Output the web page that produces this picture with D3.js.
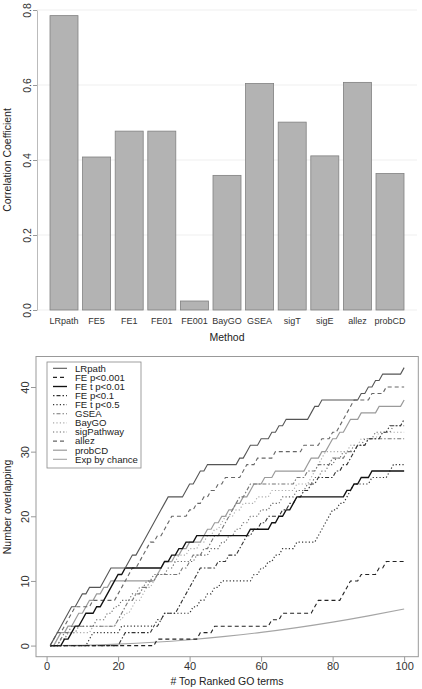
<!DOCTYPE html>
<html><head><meta charset="utf-8">
<script src="https://cdn.jsdelivr.net/npm/d3@7"></script>
<style>
body{margin:0;background:#fff}
svg{display:block}
text{font-family:"Liberation Sans",Arial,Helvetica,sans-serif}
</style>
</head><body>
<svg id="c" width="422" height="689"></svg>
<script>
// ---------- Data: top panel ----------
const methods = ["LRpath","FE5","FE1","FE01","FE001","BayGO","GSEA","sigT","sigE","allez","probCD"];
const correlation = [0.785,0.408,0.477,0.477,0.024,0.359,0.604,0.501,0.411,0.607,0.364];
const corrTicks = [0,0.2,0.4,0.6,0.8];

// ---------- Data: bottom panel ----------
const seriesNames = ["LRpath","FE p<0.001","FE t p<0.01","FE p<0.1","FE t p<0.5","GSEA","BayGO","sigPathway","allez","probCD","Exp by chance"];
// ranks (x of top ranked GO terms) at which a new overlapping term appears
const hitsLRpath = [2,3,4,5,6,7,9,10,12,16,17,18,23,24,26,27,28,29,30,31,32,33,34,39,40,42,43,45,54,56,57,60,63,65,67,74,75,77,88,90,92,94,100];
const hitsFE001 = [31,43,47,63,66,75,76,83,84,85,88,93,95];
const hitsFEt01 = [5,7,8,10,11,14,16,17,18,19,20,22,33,35,37,39,42,57,63,65,67,69,70,84,86,88,91];
const hitsFE1 = [21,22,30,32,33,37,38,39,40,41,42,43,48,51,54,55,56,58,60,62,66,68,70,72,74,76,81,83,85,86,87,90,94,96,100];
const hitsFEt5 = [12,13,21,31,33,41,43,45,47,49,58,60,62,64,66,70,76,77,78,79,80,82,84,85,86,91,96,97];
const hitsGSEA = [4,5,7,20,21,22,23,25,27,29,31,38,40,41,44,46,47,49,50,51,52,53,54,56,57,70,73,76,80,84,87,90];
const hitsBayGO = [3,6,13,20,22,24,25,27,28,30,31,32,33,37,40,43,45,47,49,50,53,55,59,63,70,74,75,76,77,78,85,88,93];
const hitsSigPathway = [4,6,9,14,17,19,21,24,26,28,30,34,36,42,46,49,51,53,55,57,60,63,66,70,73,75,77,79,81,83,86,89,92,97];
const hitsAllez = [2,3,5,6,7,8,13,20,21,22,23,24,26,27,28,29,31,33,34,35,40,42,44,46,48,50,55,56,59,64,72,77,80,82,83,84,85,86,91,95];
const hitsProbCD = [3,4,6,8,9,11,12,14,16,18,31,32,33,36,38,40,44,45,47,49,51,53,55,57,58,61,64,73,74,77,79,80,82,84,85,88,93,100];
const chanceX = [1,10,20,30,40,50,60,70,80,90,100];
const chanceY = [0.003,0.06,0.23,0.51,0.91,1.42,2.04,2.78,3.63,4.6,5.67];
const rankTicks = [0,20,40,60,80,100];
const overlapTicks = [0,10,20,30,40];

// ---------- Styles ----------
const FONT_DARK = "#333";
const seriesStyles = [
  {color:"#555", width:1.1, dash:null},
  {color:"#222", width:1.1, dash:"4,3"},
  {color:"#111", width:1.35, dash:null},
  {color:"#333", width:1.1, dash:"1.5,2,4,2"},
  {color:"#333", width:1.2, dash:"1.2,2.2"},
  {color:"#777", width:1.1, dash:"1.5,2,4,2"},
  {color:"#aaa", width:1.1, dash:"1.2,2.2"},
  {color:"#666", width:1.1, dash:"1.2,2.2"},
  {color:"#666", width:1.1, dash:"4,3"},
  {color:"#9a9a9a", width:1.2, dash:null},
  {color:"#a5a5a5", width:1.1, dash:null}
];

const svg = d3.select("#c");

// ================= TOP: bar chart =================
const gTop = svg.append("g");
const xb = d3.scaleBand().domain(methods).range([47.7, 406.3]).paddingInner(0.141).paddingOuter(0.0705);
const yb = d3.scaleLinear().domain([0, 0.8]).range([310, 10]);

gTop.append("g").selectAll("line").data(corrTicks).join("line")
  .attr("x1", 37).attr("x2", 417)
  .attr("y1", d => yb(d)).attr("y2", d => yb(d))
  .attr("stroke", "#efefef").attr("stroke-width", 1);

gTop.append("g").selectAll("rect").data(methods).join("rect")
  .attr("x", d => xb(d))
  .attr("y", (d, i) => yb(correlation[i]))
  .attr("width", xb.bandwidth())
  .attr("height", (d, i) => yb(0) - yb(correlation[i]))
  .attr("fill", "#b3b3b3").attr("stroke", "#808080").attr("stroke-width", 0.8);

const yAxisTop = gTop.append("g").attr("transform", "translate(37,0)")
  .call(d3.axisLeft(yb).tickValues(corrTicks).tickFormat(d3.format(".1f")).tickSize(4).tickSizeOuter(0));
yAxisTop.select(".domain").attr("stroke", "#bbb");
yAxisTop.selectAll(".tick line").attr("stroke", "#999");
yAxisTop.selectAll(".tick text")
  .attr("transform", "rotate(-90)").attr("x", 0).attr("y", -6).attr("dy", 0)
  .attr("text-anchor", "middle").attr("fill", FONT_DARK).style("font-size", "10.5px");

const xAxisTop = gTop.append("g").attr("transform", "translate(0,310)")
  .call(d3.axisBottom(xb).tickSize(0).tickSizeOuter(0));
xAxisTop.select(".domain").remove();
xAxisTop.selectAll(".tick text").attr("y", 13.5).attr("dy", 0)
  .attr("fill", FONT_DARK).style("font-size", "9px");

gTop.append("text").attr("x", 227).attr("y", 341).attr("text-anchor", "middle")
  .attr("fill", "#222").style("font-size", "10.5px").text("Method");
gTop.append("text").attr("transform", "translate(11,160) rotate(-90)").attr("text-anchor", "middle")
  .attr("fill", "#222").style("font-size", "10.5px").text("Correlation Coefficient");

// ================= BOTTOM: line chart =================
const gBot = svg.append("g");
const xl = d3.scaleLinear().domain([-2.96, 103.96]).range([36, 418.3]);
const yl = d3.scaleLinear().domain([-1.72, 44.72]).range([656.7, 356.5]);

const ranks = d3.range(1, 101);
const seriesHits = [hitsLRpath, hitsFE001, hitsFEt01, hitsFE1, hitsFEt5, hitsGSEA, hitsBayGO, hitsSigPathway, hitsAllez, hitsProbCD];
const seriesData = seriesHits.map(h => ranks.map(r => ({x: r, y: h.filter(v => v <= r).length})));

const line = d3.line().x(d => xl(d.x)).y(d => yl(d.y));
const chanceLine = d3.line().x(d => xl(d[0])).y(d => yl(d[1])).curve(d3.curveMonotoneX);

gBot.append("path").datum(chanceX.map((x, i) => [x, chanceY[i]]))
  .attr("d", chanceLine).attr("fill", "none")
  .attr("stroke", seriesStyles[10].color).attr("stroke-width", seriesStyles[10].width);

for (let i = seriesData.length - 1; i >= 0; i--) {
  const st = seriesStyles[i];
  gBot.append("path").datum(seriesData[i]).attr("d", line)
    .attr("fill", "none").attr("stroke", st.color).attr("stroke-width", st.width)
    .attr("stroke-dasharray", st.dash);
}

gBot.append("rect").attr("x", xl.range()[0]).attr("y", yl.range()[1])
  .attr("width", xl.range()[1] - xl.range()[0]).attr("height", yl.range()[0] - yl.range()[1])
  .attr("fill", "none").attr("stroke", "#999").attr("stroke-width", 1);

const xAxisB = gBot.append("g").attr("transform", `translate(0,${yl.range()[0]})`)
  .call(d3.axisBottom(xl).tickValues(rankTicks).tickSize(5).tickSizeOuter(0));
xAxisB.select(".domain").remove();
xAxisB.selectAll(".tick line").attr("stroke", "#999");
xAxisB.selectAll(".tick text").attr("y", 13).attr("dy", 0)
  .attr("fill", FONT_DARK).style("font-size", "11px");

const yAxisB = gBot.append("g").attr("transform", `translate(${xl.range()[0]},0)`)
  .call(d3.axisLeft(yl).tickValues(overlapTicks).tickSize(5).tickSizeOuter(0));
yAxisB.select(".domain").remove();
yAxisB.selectAll(".tick line").attr("stroke", "#999");
yAxisB.selectAll(".tick text")
  .attr("transform", "rotate(-90)").attr("x", 0).attr("y", -7).attr("dy", 0)
  .attr("text-anchor", "middle").attr("fill", FONT_DARK).style("font-size", "11px");

gBot.append("text").attr("x", 227).attr("y", 684.5).attr("text-anchor", "middle")
  .attr("fill", "#222").style("font-size", "10.5px").text("# Top Ranked GO terms");
gBot.append("text").attr("transform", "translate(11,507) rotate(-90)").attr("text-anchor", "middle")
  .attr("fill", "#222").style("font-size", "10.5px").text("Number overlapping");

const lg = gBot.append("g");
lg.append("rect").attr("x", 47).attr("y", 362).attr("width", 94).attr("height", 106)
  .attr("fill", "#fff").attr("stroke", "#888").attr("stroke-width", 0.8);
const entries = lg.selectAll("g.e").data(seriesNames).join("g").attr("class", "e")
  .attr("transform", (d, i) => `translate(0,${368.3 + i * 9.1})`);
entries.append("line").attr("x1", 53).attr("x2", 67).attr("y1", 0).attr("y2", 0)
  .attr("stroke", (d, i) => seriesStyles[i].color)
  .attr("stroke-width", (d, i) => seriesStyles[i].width)
  .attr("stroke-dasharray", (d, i) => seriesStyles[i].dash);
entries.append("text").attr("x", 75).attr("y", 0).attr("dy", "0.35em")
  .attr("fill", "#222").style("font-size", "9.6px").text(d => d);
</script>
</body></html>
